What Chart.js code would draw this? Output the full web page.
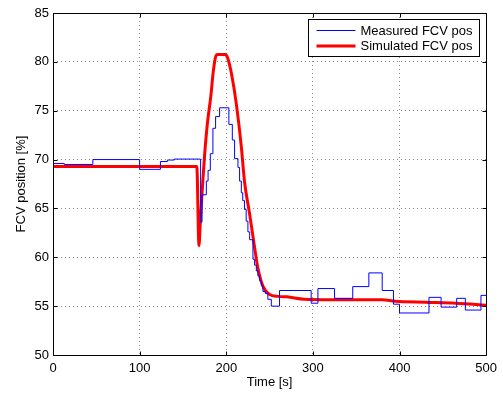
<!DOCTYPE html>
<html>
<head>
<meta charset="utf-8">
<script src="https://cdn.jsdelivr.net/npm/chart.js@4"></script>
<style>
  html, body { margin: 0; padding: 0; background: #fff; }
  #wrap { width: 503px; height: 394px; }
</style>
</head>
<body>
<div id="wrap"><canvas id="myChart" width="503" height="394"></canvas></div>
<script>
// measured valve position (stepped signal): time of change -> new value
const measuredTime = [0, 13, 46, 100, 124, 132, 140, 170.4, 172, 177, 179, 181.6, 184.6, 187.7,
  192.3, 203, 207, 209.6, 213.5, 215.4, 217.4, 219, 221, 223, 225, 227, 230.8, 232.7, 234.7,
  236.5, 238.5, 240.5, 242.3, 245, 248, 252, 261.5, 298, 305.8, 325, 346, 364.6, 380, 393,
  400, 434, 448, 466, 476, 494, 500];
const measuredPos = [69.6, 69.5, 70.0, 69.0, 69.8, 69.95, 70.05, 63.6, 66.4, 67.8, 68.9, 70.6, 73.2, 74.4,
  75.3, 73.6, 72.0, 70.1, 69.2, 67.8, 66.6, 65.8, 64.9, 63.7, 62.6, 61.8, 59.8, 59.2, 58.6,
  58.1, 57.6, 57.1, 56.5, 56.3, 55.7, 55.0, 56.6, 55.3, 56.8, 55.8, 57.0, 58.4, 56.6, 55.2,
  54.3, 55.9, 54.9, 55.8, 54.6, 56.1, 56.1];

// simulated valve position (smooth)
const simulatedTime = [0, 166, 168.5, 170, 172, 174.6, 178, 182.3, 185, 188, 190, 199, 202, 206,
  211.6, 217.4, 221, 227, 232.7, 236.5, 242.3, 250, 260, 270, 290, 320, 380, 395, 430, 465, 500];
const simulatedPos = [69.3, 69.3, 61.2, 63.5, 66.5, 70.0, 73.5, 76.6, 79.0, 80.6, 80.75, 80.75, 80.3, 78.8,
  75.7, 71.3, 67.8, 64.4, 61.0, 58.9, 57.05, 56.2, 56.0, 55.95, 55.7, 55.65, 55.65, 55.5, 55.4, 55.3, 55.1];

const xTicks = [0, 100, 200, 300, 400, 500];
const yTicks = [50, 55, 60, 65, 70, 75, 80, 85];

const fontFamily = "'Liberation Sans', Arial, Helvetica, sans-serif";
Chart.defaults.font.family = fontFamily;
Chart.defaults.color = "#000";

const measuredData = measuredTime.map((t, i) => ({ x: t, y: measuredPos[i] }));
const simulatedData = simulatedTime.map((t, i) => ({ x: t, y: simulatedPos[i] }));

// black box + inward ticks like matlab axes
const boxPlugin = {
  id: "boxPlugin",
  afterDraw(chart) {
    const ctx = chart.ctx;
    const a = chart.chartArea;
    const xs = chart.scales.x;
    const ys = chart.scales.y;
    const l = Math.round(a.left) + 0.5, r = Math.round(a.right) + 0.5;
    const t = Math.round(a.top) + 0.5, b = Math.round(a.bottom) + 0.5;
    ctx.save();
    ctx.strokeStyle = "#000";
    ctx.lineWidth = 1;
    ctx.beginPath();
    ctx.rect(l, t, r - l, b - t);
    for (const v of xTicks) {
      const px = Math.round(xs.getPixelForValue(v)) + 0.5;
      ctx.moveTo(px, b); ctx.lineTo(px, b - 4);
      ctx.moveTo(px, t); ctx.lineTo(px, t + 4);
    }
    for (const v of yTicks) {
      const py = Math.round(ys.getPixelForValue(v)) + 0.5;
      ctx.moveTo(l, py); ctx.lineTo(l + 4, py);
      ctx.moveTo(r, py); ctx.lineTo(r - 4, py);
    }
    ctx.stroke();
    ctx.restore();
  },
};

// legend box in the upper right corner
const legendPlugin = {
  id: "legendPlugin",
  afterDraw(chart) {
    const ctx = chart.ctx;
    const a = chart.chartArea;
    const w = 171, h = 37;
    const x0 = Math.round(a.right) - 7 - w + 0.5;
    const y0 = Math.round(a.top) + 6 + 0.5;
    ctx.save();
    ctx.fillStyle = "#fff";
    ctx.fillRect(x0, y0, w, h);
    ctx.strokeStyle = "#000";
    ctx.lineWidth = 1;
    ctx.strokeRect(x0, y0, w, h);
    ctx.font = "13px " + fontFamily;
    ctx.textBaseline = "middle";
    ctx.textAlign = "left";
    chart.data.datasets.forEach((ds, i) => {
      const yy = y0 + 11 + i * 15.5;
      ctx.strokeStyle = ds.borderColor;
      ctx.lineWidth = ds.borderWidth;
      ctx.beginPath();
      ctx.moveTo(x0 + 8, yy);
      ctx.lineTo(x0 + 47, yy);
      ctx.stroke();
      ctx.fillStyle = "#000";
      ctx.fillText(ds.label, x0 + 52, yy + 0.5);
    });
    ctx.restore();
  },
};

const grafica = document.getElementById("myChart").getContext("2d");

const myChart = new Chart(grafica, {
  type: "line",
  data: {
    datasets: [
      {
        label: "Measured FCV pos",
        data: measuredData,
        borderColor: "#0000ff",
        borderWidth: 1,
        pointRadius: 0,
        stepped: "before",
        fill: false,
      },
      {
        label: "Simulated FCV pos",
        data: simulatedData,
        borderColor: "#ff0000",
        borderWidth: 3,
        pointRadius: 0,
        cubicInterpolationMode: "monotone",
        borderJoinStyle: "round",
        fill: false,
      },
    ],
  },
  options: {
    responsive: false,
    animation: false,
    events: [],
    layout: { padding: { top: 13, right: 16, left: 0, bottom: 0 } },
    plugins: {
      legend: { display: false },
      tooltip: { enabled: false },
    },
    scales: {
      x: {
        type: "linear",
        min: 0,
        max: 500,
        afterBuildTicks: (scale) => { scale.ticks = xTicks.map((v) => ({ value: v })); },
        afterFit: (scale) => { scale.height = 39; },
        ticks: { padding: 6, maxRotation: 0, font: { size: 13 }, color: "#000" },
        grid: { color: "#8c8c8c", lineWidth: 1, drawTicks: false },
        border: { display: false, dash: [1, 3] },
        title: { display: true, text: "Time [s]", font: { size: 13 }, color: "#000", padding: { top: 0, bottom: 4 } },
      },
      y: {
        type: "linear",
        min: 50,
        max: 85,
        afterBuildTicks: (scale) => { scale.ticks = yTicks.map((v) => ({ value: v })); },
        afterFit: (scale) => { scale.width = 53; },
        ticks: { padding: 4, font: { size: 13 }, color: "#000" },
        grid: { color: "#8c8c8c", lineWidth: 1, drawTicks: false },
        border: { display: false, dash: [1, 3] },
        title: { display: true, text: "FCV position [%]", font: { size: 13 }, color: "#000", padding: { top: 14, bottom: 0 } },
      },
    },
  },
  plugins: [boxPlugin, legendPlugin],
});
</script>
</body>
</html>
